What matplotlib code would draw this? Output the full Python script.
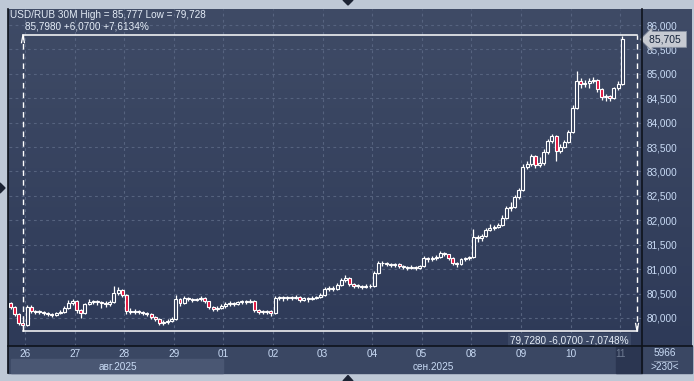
import matplotlib
matplotlib.use("Agg")
import matplotlib.pyplot as plt
import numpy as np
from matplotlib.patches import Rectangle, Polygon
from matplotlib.lines import Line2D
from matplotlib.colors import LinearSegmentedColormap
from matplotlib.transforms import blended_transform_factory

plt.rcParams['font.family'] = ['Liberation Sans', 'DejaVu Sans']

# ---------------- data ----------------
title = "USD/RUB 30M High = 85,777 Low = 79,728"
day_labels = ["26", "27", "28", "29", "01", "02", "03", "04", "05", "08", "09", "10", "11"]
month_labels = ["авг.2025", "сен.2025"]
candles_per_day = 12
first_day_offset = 4          # candles of 25 Aug shown before 26 Aug
first_open = 80.30

closes = [
    80.22, 80.08, 79.90, 79.86,
    80.22, 80.14, 80.12, 80.13, 80.10, 80.08, 80.07, 80.10, 80.12, 80.20, 80.30, 80.35,
    80.16, 80.10, 80.28, 80.32, 80.34, 80.32, 80.30, 80.28, 80.33, 80.52, 80.58, 80.47,
    80.15, 80.12, 80.14, 80.12, 80.10, 80.08, 80.02, 79.98, 79.90, 79.92, 79.94, 79.98,
    80.38, 80.30, 80.40, 80.38, 80.36, 80.38, 80.40, 80.34, 80.22, 80.18, 80.20, 80.24,
    80.28, 80.30, 80.28, 80.32, 80.34, 80.33, 80.35, 80.16, 80.13, 80.12, 80.14, 80.10,
    80.40, 80.42, 80.40, 80.42, 80.40, 80.43, 80.36, 80.40, 80.38, 80.41, 80.42, 80.48,
    80.60, 80.62, 80.60, 80.68, 80.78, 80.82, 80.70, 80.66, 80.66, 80.64, 80.66, 80.65,
    80.92, 81.12, 81.12, 81.10, 81.08, 81.10, 81.06, 81.04, 81.02, 81.05, 81.03, 81.06,
    81.22, 81.20, 81.22, 81.24, 81.33, 81.30, 81.22, 81.12, 81.10, 81.20, 81.22, 81.24,
    81.66, 81.64, 81.68, 81.80, 81.84, 81.86, 81.90, 82.05, 82.25, 82.28, 82.47, 82.62,
    83.10, 83.15, 83.32, 83.14, 83.18, 83.40, 83.62, 83.72, 83.42, 83.50, 83.60, 83.80,
    84.30, 84.86, 84.80, 84.82, 84.86, 84.88, 84.68, 84.52, 84.54, 84.50, 84.70, 84.80,
    85.705,
]
highs = [
    80.33, 80.24, 80.10, 79.96,
    80.26, 80.27, 80.17, 80.16, 80.15, 80.13, 80.11, 80.13, 80.16, 80.24, 80.36, 80.38,
    80.37, 80.18, 80.31, 80.38, 80.37, 80.36, 80.35, 80.34, 80.36, 80.65, 80.64, 80.60,
    80.49, 80.20, 80.18, 80.16, 80.14, 80.12, 80.10, 80.04, 80.00, 79.96, 79.98, 80.02,
    80.47, 80.40, 80.44, 80.42, 80.40, 80.41, 80.44, 80.42, 80.35, 80.25, 80.24, 80.28,
    80.33, 80.34, 80.32, 80.35, 80.37, 80.37, 80.38, 80.36, 80.18, 80.16, 80.17, 80.16,
    80.46, 80.46, 80.45, 80.46, 80.44, 80.47, 80.44, 80.43, 80.42, 80.44, 80.46, 80.52,
    80.64, 80.66, 80.65, 80.72, 80.82, 80.87, 80.84, 80.72, 80.70, 80.68, 80.69, 80.69,
    80.97, 81.16, 81.16, 81.14, 81.12, 81.13, 81.12, 81.08, 81.06, 81.08, 81.07, 81.09,
    81.26, 81.25, 81.26, 81.28, 81.37, 81.36, 81.32, 81.24, 81.15, 81.23, 81.25, 81.27,
    81.82, 81.70, 81.72, 81.84, 81.92, 81.90, 81.95, 82.10, 82.30, 82.38, 82.52, 82.66,
    83.16, 83.22, 83.36, 83.34, 83.30, 83.46, 83.66, 83.76, 83.74, 83.56, 83.64, 83.85,
    84.36, 85.05, 84.92, 84.88, 84.92, 84.94, 84.90, 84.70, 84.58, 84.56, 84.74, 84.86,
    85.777,
]
lows = [
    80.19, 80.05, 79.86, 79.728,
    79.84, 80.11, 80.08, 80.09, 80.06, 80.04, 80.03, 80.05, 80.08, 80.10, 80.18, 80.27,
    80.10, 80.00, 80.08, 80.26, 80.28, 80.27, 80.20, 80.22, 80.25, 80.31, 80.48, 80.42,
    80.08, 80.08, 80.09, 80.08, 80.06, 80.04, 79.98, 79.94, 79.86, 79.86, 79.88, 79.92,
    79.96, 80.24, 80.28, 80.34, 80.33, 80.34, 80.35, 80.30, 80.18, 80.14, 80.15, 80.18,
    80.20, 80.24, 80.24, 80.26, 80.29, 80.29, 80.30, 80.12, 80.09, 80.08, 80.08, 80.04,
    80.08, 80.36, 80.35, 80.37, 80.36, 80.38, 80.32, 80.34, 80.32, 80.36, 80.38, 80.40,
    80.46, 80.56, 80.55, 80.58, 80.66, 80.74, 80.66, 80.62, 80.62, 80.60, 80.61, 80.61,
    80.63, 80.90, 81.07, 81.06, 81.04, 81.05, 81.02, 81.00, 80.98, 81.00, 80.99, 81.01,
    81.04, 81.14, 81.16, 81.19, 81.22, 81.26, 81.18, 81.08, 81.04, 81.08, 81.17, 81.19,
    81.22, 81.55, 81.58, 81.66, 81.78, 81.80, 81.84, 81.88, 82.02, 82.20, 82.26, 82.44,
    82.60, 83.06, 83.12, 83.08, 83.10, 83.14, 83.36, 83.58, 83.22, 83.38, 83.48, 83.58,
    83.78, 84.28, 84.70, 84.74, 84.72, 84.82, 84.62, 84.46, 84.44, 84.44, 84.48, 84.66,
    84.78,
]
meas_hi = 85.798
meas_lo = 79.728
meas_top_text = "85,7980 +6,0700 +7,6134%"
meas_bot_text = "79,7280 -6,0700 -7,0748%"
last_price_text = "85,705"
bars_count_text = "5966"
zoom_text = ">230<"

# ---------------- figure ----------------
W, H = 694, 381
FS = 7.2
TXT = '#c9dbf5'
fig = plt.figure(figsize=(W / 100, H / 100), dpi=100, facecolor='#bec8d6')


def fr(x0, y0, x1, y1):
    return [x0 / W, 1 - y1 / H, (x1 - x0) / W, (y1 - y0) / H]


def fpt(x, y):
    return (x / W, 1 - y / H)


# bottom time-scale strip (behind everything)
fig.patches.append(Rectangle(fpt(8, 373), (692 - 8) / W, (373 - 346) / H,
                             transform=fig.transFigure, color='#3a4763', zorder=-3))
fig.patches.append(Rectangle(fpt(11, 373), (223 - 11) / W, (373 - 359) / H,
                             transform=fig.transFigure, color='#4a5773', zorder=-2))
fig.patches.append(Rectangle(fpt(616, 373), (642 - 616) / W, (373 - 347) / H,
                             transform=fig.transFigure, color='#2b3651', zorder=-2))

# gradient background of plot + price scale
bg = fig.add_axes(fr(8, 9, 692, 346), zorder=-1)
bg.axis('off')
cmap = LinearSegmentedColormap.from_list('g', ['#3f4b66', '#2e3a58'])
bg.imshow(np.linspace(0, 1, 256).reshape(-1, 1), aspect='auto', cmap=cmap,
          extent=[0, 1, 0, 1])

ax = fig.add_axes(fr(9, 9, 642, 346), zorder=1)
ax.patch.set_alpha(0)
for s in ax.spines.values():
    s.set_visible(False)

closes = np.array(closes)
highs = np.array(highs)
lows = np.array(lows)
opens = np.r_[first_open, closes[:-1]]
n = len(closes)
x = np.arange(n)

day_bounds = first_day_offset - 0.5 + candles_per_day * np.arange(len(day_labels))

ax.set_xlim(-0.38, 152.8)
ax.set_ylim(79.426, 86.328)

ax.set_yticks(np.arange(80.0, 86.01, 0.5))
ax.set_xticks(day_bounds)
ax.set_xticklabels(day_labels)
ax.yaxis.set_major_formatter(plt.FuncFormatter(lambda v, p: f"{v:.3f}".replace('.', ',')))
ax.yaxis.tick_right()
ax.tick_params(axis='y', length=0, pad=3, labelsize=FS, labelcolor=TXT)
ax.tick_params(axis='x', length=0, pad=2.5, labelsize=FS, labelcolor=TXT)
ax.get_xticklabels()[-1].set_color('#6f7c93')
ax.grid(True, color='#56637f', lw=0.8, ls=(0, (2.5, 3)))
ax.set_axisbelow(True)

# month labels
fig.text(118 / W, 1 - 367 / H, month_labels[0], ha='center', va='center',
         fontsize=FS, color=TXT)
fig.text(433 / W, 1 - 367 / H, month_labels[1], ha='center', va='center',
         fontsize=FS, color=TXT)

# candles
up = closes >= opens
ax.vlines(x, lows, highs, color='white', lw=0.9, zorder=3)
ax.bar(x, np.maximum(np.abs(closes - opens), 0.015), bottom=np.minimum(opens, closes),
       width=0.72, color=np.where(up, '#34405c', '#e3123d'), edgecolor='white',
       linewidth=0.8, zorder=4)

# measurement tool
m0, m1 = 3.0, 151.6
ax.plot([m0, m1], [meas_hi, meas_hi], color='white', lw=1.1, zorder=5)
ax.plot([m0, m1], [meas_lo, meas_lo], color='white', lw=1.1, zorder=5)
ax.plot([m0, m0], [meas_lo, meas_hi], color='white', lw=1.0, dashes=(4, 3), zorder=5)
ax.plot([m1, m1], [meas_lo, meas_hi], color='white', lw=1.0, dashes=(4, 3), zorder=5)
ax.plot([m0 - 0.35, m0, m0 + 0.35], [meas_hi - 0.16, meas_hi, meas_hi - 0.16],
        color='white', lw=0.9, zorder=5)
ax.plot([m1 - 0.35, m1, m1 + 0.35], [meas_lo + 0.16, meas_lo, meas_lo + 0.16],
        color='white', lw=0.9, zorder=5)
ax.annotate(meas_top_text, xy=(m0, meas_hi), xytext=(1.5, 6), textcoords='offset points',
            ha='left', va='center', fontsize=FS, color='#e4ecf6', zorder=6)
ax.annotate(meas_bot_text, xy=(m1, meas_lo), xytext=(-6, -6.5), textcoords='offset points',
            ha='right', va='center', fontsize=FS, color='#e4ecf6', zorder=6,
            bbox=dict(boxstyle='square,pad=0.2', fc='#3c4966', ec='none'))

# current price label
bta = blended_transform_factory(ax.transAxes, ax.transData)
ax.text(1 + 7 / 633, closes[-1], last_price_text + " ", transform=bta, ha='left', va='center',
        fontsize=FS + 0.3, color='#15233a', clip_on=False, zorder=7,
        bbox=dict(boxstyle='larrow,pad=0.28', fc='#c6cad2', ec='#8a93a3', lw=0.6))

# header
fig.text(10 / W, 1 - 15 / H, title, ha='left', va='center', fontsize=FS, color='#e4ecf6')

# separators
for (xa, ya, xb, yb) in [(8, 9, 8, 373), (642, 9, 642, 373), (8, 346, 692, 346)]:
    fig.add_artist(Line2D([xa / W, xb / W], [1 - ya / H, 1 - yb / H], color='#0e131c',
                          lw=1.2, transform=fig.transFigure))

# bottom-right info box
fig.text(665 / W, 1 - 353 / H, bars_count_text, ha='center', va='center',
         fontsize=FS, color=TXT)
fig.add_artist(Line2D([654 / W, 677 / W], [1 - 360.5 / H, 1 - 360.5 / H],
                      color='#7f8ca3', lw=0.8, transform=fig.transFigure))
fig.text(665 / W, 1 - 367.5 / H, zoom_text, ha='center', va='center',
         fontsize=FS, color=TXT)

# scroll triangles
for pts in [[(343, 0), (353, 0), (348, 5)], [(343, 381), (353, 381), (348, 375.5)],
            [(0, 183), (0, 193), (5, 188)]]:
    fig.patches.append(Polygon([fpt(px, py) for px, py in pts], closed=True,
                               transform=fig.transFigure, color='#1c2333'))

fig.savefig('out.png', dpi=100, facecolor=fig.get_facecolor())
